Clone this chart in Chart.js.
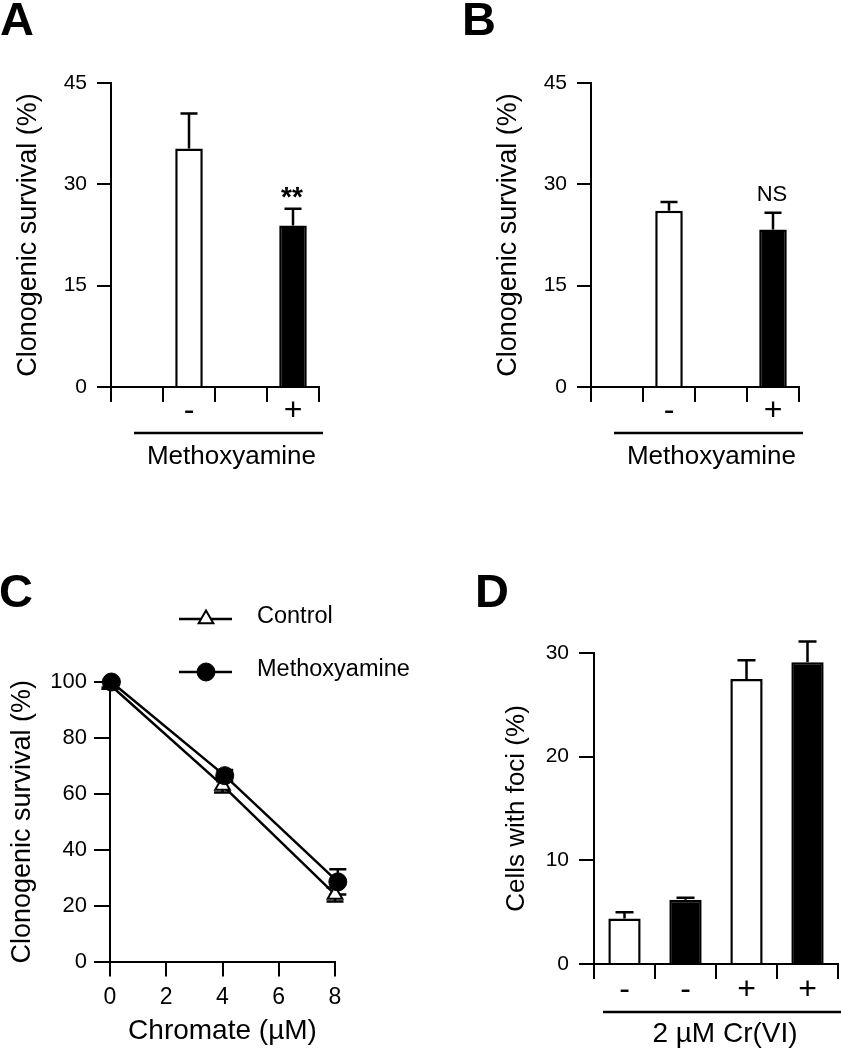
<!DOCTYPE html>
<html>
<head>
<meta charset="utf-8">
<script src="https://cdn.jsdelivr.net/npm/chart.js@4.4.1/dist/chart.umd.min.js"></script>
<style>
  html, body { margin: 0; padding: 0; background: #fff; }
  #wrap { position: relative; width: 841px; height: 1050px; overflow: hidden; }
  canvas { position: absolute; }
  .letter { position: absolute; font: bold 47px "Liberation Sans", Arial, sans-serif; line-height: 1; color: #000; }
</style>
</head>
<body>
<div id="wrap">
  <canvas id="chartA" width="420" height="480" style="left:0;top:0"></canvas>
  <canvas id="chartB" width="421" height="480" style="left:420px;top:0"></canvas>
  <canvas id="chartC" width="420" height="550" style="left:0;top:500px"></canvas>
  <canvas id="chartD" width="421" height="550" style="left:420px;top:500px"></canvas>
  <div class="letter" style="left:0;top:-5px">A</div>
  <div class="letter" style="left:462px;top:-5px">B</div>
  <div class="letter" style="left:-1px;top:567px">C</div>
  <div class="letter" style="left:475px;top:567px">D</div>
</div>
<script>
// panels A and B: clonogenic survival, 4 slots on the x axis, bars in slots 2 and 4
const abLabels = ['', '-', '', '+'];
const abFill = ['#fff', '#fff', '#fff', '#000'];
const abTicks = [0, 15, 30, 45];
const aSurvival = [null, 35.3, null, 23.9];
const aError = [null, 5.2, null, 2.5];
const bSurvival = [null, 26.1, null, 23.3];
const bError = [null, 1.3, null, 2.5];

// panel C: survival vs chromate dose
const cControlDose = [0, 4, 8];
const cControl = [99, 63, 24];
const cControlErr = [1, 2.5, 2.5];
const cMethoxDose = [0.05, 4.08, 8.1];
const cMethox = [100, 66.5, 28.5];
const cMethoxErr = [1, 2, 4.5];
const cXTicks = [0, 2, 4, 6, 8];
const cYTicks = [0, 20, 40, 60, 80, 100];

// panel D: cells with foci
const dLabels = ['-', '-', '+', '+'];
const dFill = ['#fff', '#000', '#fff', '#000'];
const dFoci = [4.4, 6.2, 27.5, 29.1];
const dError = [0.6, 0.2, 1.8, 2.0];
const dTicks = [0, 10, 20, 30];

const FONT = '"Liberation Sans", Arial, Helvetica, sans-serif';
Chart.defaults.font.family = FONT;
Chart.defaults.color = '#000';
Chart.defaults.animation = false;
Chart.defaults.plugins.legend.display = false;
Chart.defaults.plugins.tooltip.enabled = false;

// error bars, read from dataset.errors
function drawErrors(chart, opts) {
  const ctx = chart.ctx, y = chart.scales.y, cap = opts.cap;
  ctx.save();
  ctx.strokeStyle = '#000';
  ctx.lineWidth = opts.width;
  chart.data.datasets.forEach((ds, di) => {
    if (!ds.errors) return;
    chart.getDatasetMeta(di).data.forEach((el, i) => {
      const d = ds.data[i];
      const v = (d && typeof d === 'object') ? d.y : d;
      const e = ds.errors[i];
      if (v == null || e == null) return;
      const hi = y.getPixelForValue(v + e);
      const lo = opts.both ? y.getPixelForValue(v - e) : el.y;
      ctx.beginPath();
      ctx.moveTo(el.x, lo); ctx.lineTo(el.x, hi);
      ctx.moveTo(el.x - cap / 2, hi); ctx.lineTo(el.x + cap / 2, hi);
      if (opts.both) { ctx.moveTo(el.x - cap / 2, lo); ctx.lineTo(el.x + cap / 2, lo); }
      ctx.stroke();
    });
  });
  ctx.restore();
}
const errorBars = {
  id: 'errorBars',
  defaults: { cap: 17, width: 2.5, both: false, behind: false },
  beforeDatasetsDraw(chart, args, opts) { if (opts.behind) drawErrors(chart, opts); },
  afterDatasetsDraw(chart, args, opts) { if (!opts.behind) drawErrors(chart, opts); }
};

function groupLabel(ctx, text, lineY, x1, x2, textY, size) {
  ctx.save();
  ctx.strokeStyle = '#000';
  ctx.lineWidth = 2.5;
  ctx.beginPath();
  ctx.moveTo(x1, lineY); ctx.lineTo(x2, lineY);
  ctx.stroke();
  ctx.fillStyle = '#000';
  ctx.font = size + 'px ' + FONT;
  ctx.textAlign = 'center';
  ctx.textBaseline = 'alphabetic';
  ctx.fillText(text, (x1 + x2) / 2 + 3, textY);
  ctx.restore();
}

function yAxis(ticks, max, width, tickLen, pad, fontSize, title, titleSize) {
  return {
    min: 0, max: max,
    border: { display: true, color: '#000', width: 2 },
    grid: { drawOnChartArea: false, tickLength: tickLen, color: '#000', lineWidth: 2 },
    ticks: { font: { size: fontSize }, padding: pad },
    afterBuildTicks: s => { s.ticks = ticks.map(v => ({ value: v })); },
    afterFit: s => { s.width = width; },
    title: { display: true, text: title, font: { size: titleSize }, padding: 0 }
  };
}

function survivalChart(id, values, errors, padLeft, padRight, note, noteFont, noteGap) {
  new Chart(document.getElementById(id), {
    type: 'bar',
    data: {
      labels: abLabels,
      datasets: [{
        data: values, errors: errors,
        backgroundColor: abFill, borderColor: '#000', borderWidth: 2.5, borderSkipped: 'start',
        barPercentage: 0.53, categoryPercentage: 1
      }]
    },
    options: {
      responsive: false,
      layout: { padding: { left: padLeft, right: padRight, top: 83, bottom: 30 } },
      scales: {
        x: {
          offset: true,
          border: { display: true, color: '#000', width: 2 },
          grid: { offset: true, drawOnChartArea: false, tickLength: 15, color: '#000', lineWidth: 2 },
          ticks: { font: { size: 32 }, padding: -10, maxRotation: 0, autoSkip: false },
          afterFit: s => { s.height = 480 - 387 - 30; }
        },
        y: yAxis(abTicks, 45, 99, 14, 10, 21, 'Clonogenic survival (%)', 27)
      },
      plugins: { errorBars: { cap: 17 } }
    },
    plugins: [errorBars, {
      id: 'decorAB',
      afterDraw(chart) {
        const ctx = chart.ctx, a = chart.chartArea;
        groupLabel(ctx, 'Methoxyamine', a.bottom + 46, a.left + 23, a.right + 4, a.bottom + 77, 26);
        const el = chart.getDatasetMeta(0).data[3];
        const top = chart.scales.y.getPixelForValue(values[3] + errors[3]);
        ctx.save();
        ctx.fillStyle = '#000';
        ctx.font = noteFont;
        ctx.textAlign = 'center';
        ctx.fillText(note, el.x - 1, top - noteGap);
        ctx.restore();
      }
    }]
  });
}

survivalChart('chartA', aSurvival, aError, 12, 101, '**', 'bold 28px ' + FONT, 3);
survivalChart('chartB', bSurvival, bError, 72, 42, 'NS', '22px ' + FONT, 12);

// panel C
new Chart(document.getElementById('chartC'), {
  type: 'line',
  data: {
    datasets: [{
      label: 'Control',
      data: cControlDose.map((x, i) => ({ x: x, y: cControl[i] })),
      errors: cControlErr,
      borderColor: '#000', borderWidth: 2.5,
      pointStyle: 'triangle', pointRadius: 8.5,
      pointBackgroundColor: '#fff', pointBorderColor: '#000', pointBorderWidth: 2,
      order: 2, clip: false
    }, {
      label: 'Methoxyamine',
      data: cMethoxDose.map((x, i) => ({ x: x, y: cMethox[i] })),
      errors: cMethoxErr,
      borderColor: '#000', borderWidth: 2.5,
      pointStyle: 'circle', pointRadius: 9,
      pointBackgroundColor: '#000', pointBorderColor: '#000', pointBorderWidth: 1,
      order: 1, clip: false
    }]
  },
  options: {
    responsive: false,
    layout: { padding: { left: 6, right: 85, top: 182, bottom: 2 } },
    scales: {
      x: {
        type: 'linear', min: 0, max: 8,
        border: { display: true, color: '#000', width: 2 },
        grid: { drawOnChartArea: false, tickLength: 15, color: '#000', lineWidth: 2 },
        ticks: { font: { size: 23 }, padding: 7, maxRotation: 0 },
        afterBuildTicks: s => { s.ticks = cXTicks.map(v => ({ value: v })); },
        afterFit: s => { s.height = 550 - 2 - 461.5; },
        title: { display: true, text: 'Chromate (\u00B5M)', font: { size: 28 }, padding: 0 }
      },
      y: yAxis(cYTicks, 100, 104, 16, 7, 22, 'Clonogenic survival (%)', 27)
    },
    plugins: { errorBars: { cap: 17, both: true, behind: true } }
  },
  plugins: [errorBars, {
    id: 'legendC',
    afterDraw(chart) {
      const ctx = chart.ctx;
      const rows = [119, 172];
      chart.data.datasets.forEach((ds, i) => {
        const y = rows[i];
        ctx.save();
        ctx.strokeStyle = '#000';
        ctx.lineWidth = 2.5;
        ctx.beginPath(); ctx.moveTo(179, y); ctx.lineTo(232, y); ctx.stroke();
        ctx.fillStyle = ds.pointBackgroundColor;
        ctx.strokeStyle = ds.pointBorderColor;
        ctx.lineWidth = ds.pointBorderWidth;
        Chart.helpers.drawPoint(ctx, { pointStyle: ds.pointStyle, radius: ds.pointRadius, rotation: 0, borderWidth: ds.pointBorderWidth }, 206, y);
        ctx.fillStyle = '#000';
        ctx.font = '23.5px ' + FONT;
        ctx.textAlign = 'left';
        ctx.textBaseline = 'middle';
        ctx.fillText(ds.label, 257, y - 2);
        ctx.restore();
      });
    }
  }]
});

// panel D
new Chart(document.getElementById('chartD'), {
  type: 'bar',
  data: {
    labels: dLabels,
    datasets: [{
      data: dFoci, errors: dError,
      backgroundColor: dFill, borderColor: '#000', borderWidth: 2.5, borderSkipped: 'start',
      barPercentage: 0.53, categoryPercentage: 1
    }]
  },
  options: {
    responsive: false,
    layout: { padding: { left: 81, right: 3, top: 153, bottom: 20 } },
    scales: {
      x: {
        offset: true,
        border: { display: true, color: '#000', width: 2 },
        grid: { offset: true, drawOnChartArea: false, tickLength: 15, color: '#000', lineWidth: 2 },
        ticks: { font: { size: 32 }, padding: -8, maxRotation: 0, autoSkip: false },
        afterFit: s => { s.height = 550 - 464 - 20; }
      },
      y: yAxis(dTicks, 30, 93, 15, 10, 21, 'Cells with foci (%)', 26)
    },
    plugins: { errorBars: { cap: 18 } }
  },
  plugins: [errorBars, {
    id: 'decorD',
    afterDraw(chart) {
      const a = chart.chartArea;
      groupLabel(chart.ctx, '2 \u00B5M Cr(VI)', a.bottom + 48, a.left + 9, a.right + 3, a.bottom + 78, 28);
    }
  }]
});
</script>
</body>
</html>
